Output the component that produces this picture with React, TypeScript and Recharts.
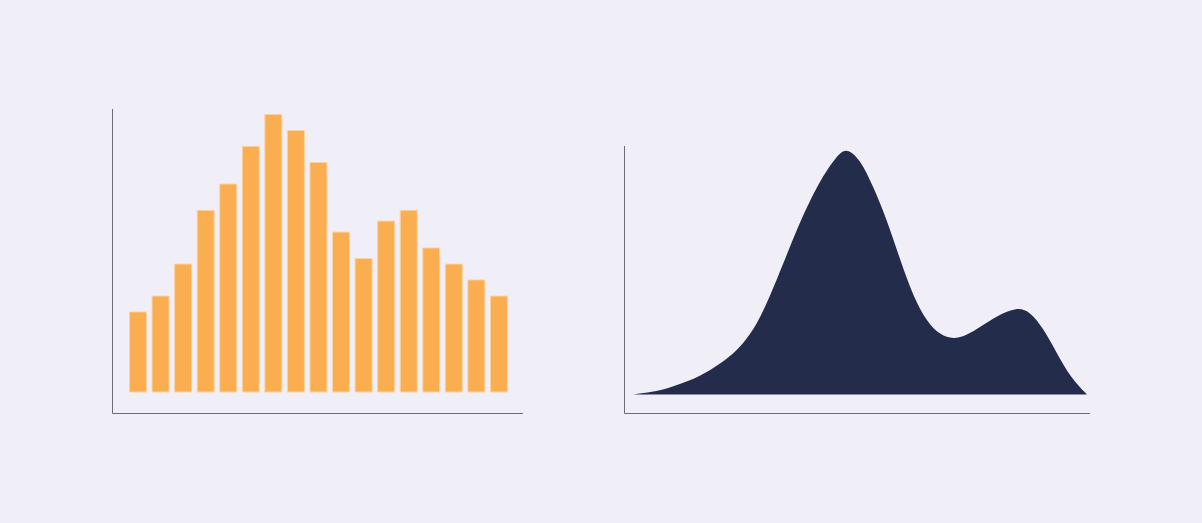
import React from 'react';
import { BarChart, Bar, AreaChart, Area, XAxis, YAxis } from 'recharts';

// histogram bars, height as % of the left plot
const binLabels = ['b1', 'b2', 'b3', 'b4', 'b5', 'b6', 'b7', 'b8', 'b9', 'b10', 'b11', 'b12', 'b13', 'b14', 'b15', 'b16', 'b17'];
const binHeights = [28.3, 33.9, 45.2, 64.2, 73.5, 86.8, 98.1, 92.4, 81.1, 56.5, 47.2, 60.4, 64.2, 50.9, 45.2, 39.6, 33.9];

// density curve samples (x in 0-100, height as % of the right plot)
const curveX = [0, 3.8, 8.2, 12.6, 17.0, 21.4, 24.4, 27.3, 30.2, 33.2, 36.1, 39.1, 42.0, 44.9, 47.1, 50.1, 53.0, 56.0, 58.9, 61.8, 64.8, 67.7, 70.6, 73.6, 76.5, 80.2, 84.6, 87.5, 90.4, 93.4, 96.3, 100];
const curveY = [0, 0.8, 2.7, 5.5, 9.5, 15.1, 20.5, 27.9, 39.3, 52.8, 66.2, 78.3, 88.3, 95.9, 99.4, 94.6, 83.6, 70.2, 54.1, 39.3, 29.2, 23.9, 22.2, 23.9, 27.2, 31.7, 35.2, 33.3, 26.6, 16.5, 7.1, 0];

const barData = binLabels.map((name, i) => ({ name, value: binHeights[i] }));
const curveData = curveX.map((x, i) => ({ x, y: curveY[i] }));

const AXIS = '#6c6b76';

export default function App() {
  return (
    <div
      style={{
        position: 'absolute',
        left: 0,
        top: 0,
        width: 1202,
        height: 523,
        background: '#F0EFF8',
        overflow: 'hidden',
      }}
    >
      <div style={{ position: 'absolute', left: 111, top: 100 }}>
        <BarChart width={421} height={320} data={barData} margin={{ top: 9, right: 9, left: 0.5, bottom: 5.5 }}>
          <XAxis
            dataKey="name"
            tick={false}
            tickLine={false}
            height={1}
            stroke={AXIS}
            padding={{ left: 14, right: 13 }}
          />
          <YAxis
            type="number"
            domain={[0, 100]}
            tick={false}
            tickLine={false}
            width={1}
            stroke={AXIS}
            padding={{ top: 0, bottom: 21.5 }}
          />
          <Bar dataKey="value" fill="#FBAE4F" stroke="#FCD3A2" strokeWidth={1} barSize={17} isAnimationActive={false} />
        </BarChart>
      </div>
      <div style={{ position: 'absolute', left: 623, top: 130 }}>
        <AreaChart width={480} height={300} data={curveData} margin={{ top: 16, right: 13, left: 0.5, bottom: 15.5 }}>
          <XAxis
            dataKey="x"
            type="number"
            domain={[0, 100]}
            tick={false}
            tickLine={false}
            height={1}
            stroke={AXIS}
            padding={{ left: 8, right: 3 }}
          />
          <YAxis
            type="number"
            domain={[0, 100]}
            tick={false}
            tickLine={false}
            width={1}
            stroke={AXIS}
            padding={{ top: 0, bottom: 19 }}
          />
          <Area
            type="basis"
            dataKey="y"
            stroke="none"
            fill="#232C4B"
            fillOpacity={1}
            dot={false}
            activeDot={false}
            isAnimationActive={false}
          />
        </AreaChart>
      </div>
    </div>
  );
}
